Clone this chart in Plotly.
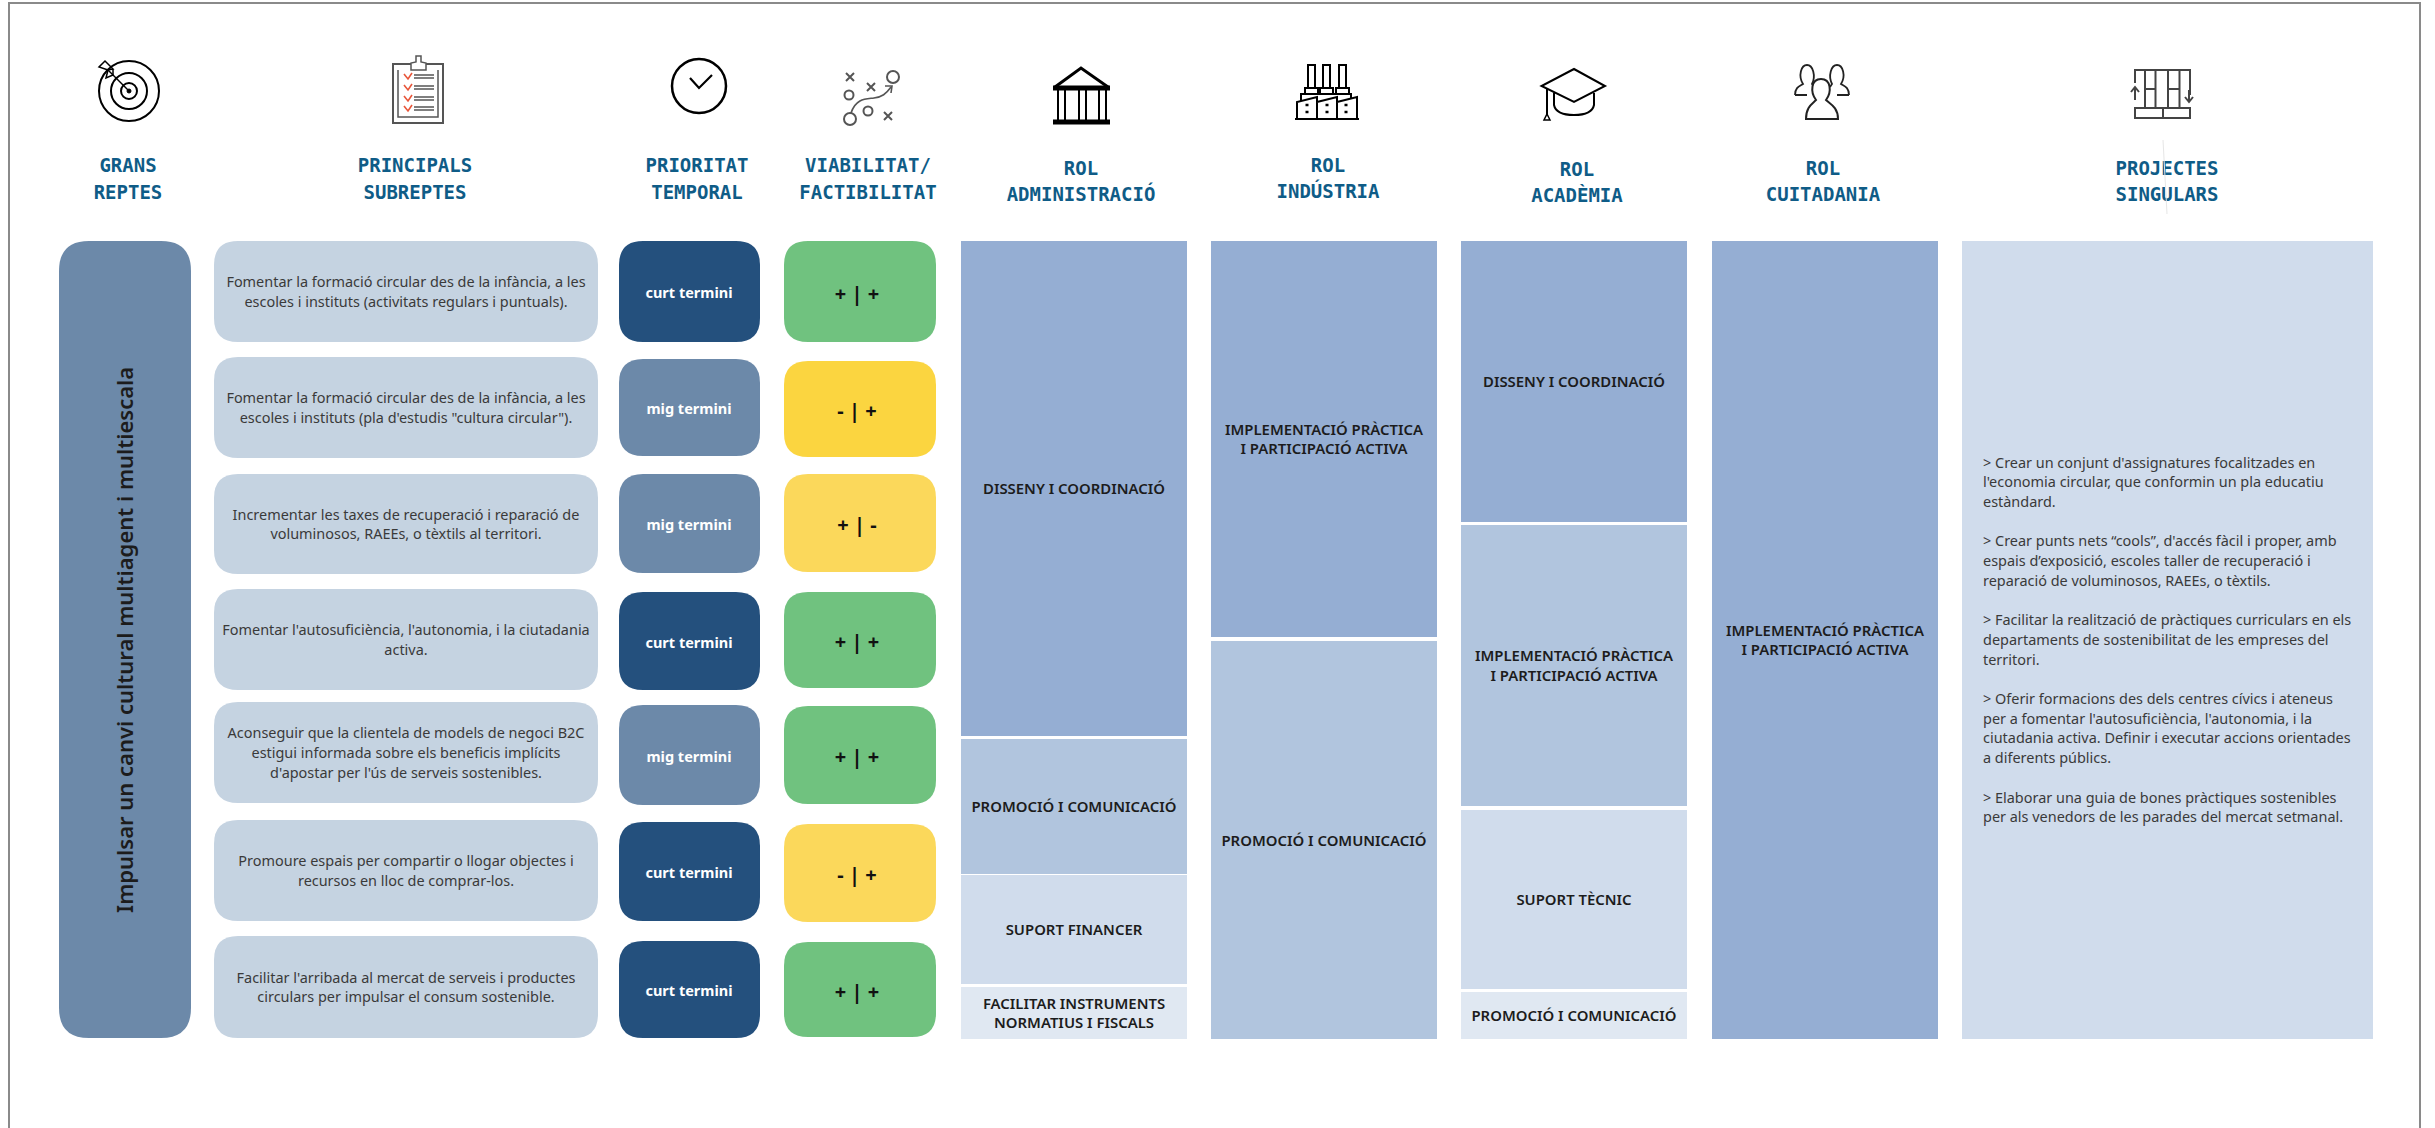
import plotly.graph_objects as go

# ---------- content ----------
CHALLENGE = "Impulsar un canvi cultural multiagent i multiescala"
HEADERS = [["GRANS", "REPTES"], ["PRINCIPALS", "SUBREPTES"], ["PRIORITAT", "TEMPORAL"],
           ["VIABILITAT/", "FACTIBILITAT"], ["ROL", "ADMINISTRACIÓ"], ["ROL", "INDÚSTRIA"],
           ["ROL", "ACADÈMIA"], ["ROL", "CUITADANIA"], ["PROJECTES", "SINGULARS"]]
SUBCHALLENGES = [
    ["Fomentar la formació circular des de la infància, a les", "escoles i instituts (activitats regulars i puntuals)."],
    ["Fomentar la formació circular des de la infància, a les", "escoles i instituts (pla d'estudis \"cultura circular\")."],
    ["Incrementar les taxes de recuperació i reparació de", "voluminosos, RAEEs, o tèxtils al territori."],
    ["Fomentar l'autosuficiència, l'autonomia, i la ciutadania", "activa."],
    ["Aconseguir que la clientela de models de negoci B2C", "estigui informada sobre els beneficis implícits", "d'apostar per l'ús de serveis sostenibles."],
    ["Promoure espais per compartir o llogar objectes i", "recursos en lloc de comprar-los."],
    ["Facilitar l'arribada al mercat de serveis i productes", "circulars per impulsar el consum sostenible."],
]
PRIORITY = ["curt termini", "mig termini", "mig termini", "curt termini", "mig termini", "curt termini", "curt termini"]
VIABILITY = ["+ | +", "- | +", "+ | -", "+ | +", "+ | +", "- | +", "+ | +"]
ROLE_ADMIN = [["DISSENY I COORDINACIÓ"], ["PROMOCIÓ I COMUNICACIÓ"], ["SUPORT FINANCER"],
              ["FACILITAR INSTRUMENTS", "NORMATIUS I FISCALS"]]
ROLE_ADMIN_HEIGHT = [495, 135, 109, 52]
ROLE_INDUSTRY = [["IMPLEMENTACIÓ PRÀCTICA", "I PARTICIPACIÓ ACTIVA"], ["PROMOCIÓ I COMUNICACIÓ"]]
ROLE_INDUSTRY_HEIGHT = [396, 398]
ROLE_ACADEMIA = [["DISSENY I COORDINACIÓ"], ["IMPLEMENTACIÓ PRÀCTICA", "I PARTICIPACIÓ ACTIVA"],
                 ["SUPORT TÈCNIC"], ["PROMOCIÓ I COMUNICACIÓ"]]
ROLE_ACADEMIA_HEIGHT = [281, 281, 179, 47]
ROLE_CITIZENS = [["IMPLEMENTACIÓ PRÀCTICA", "I PARTICIPACIÓ ACTIVA"]]
ROLE_CITIZENS_HEIGHT = [798]
PROJECTS = [
    "> Crear un conjunt d'assignatures focalitzades en", "l'economia circular, que conformin un pla educatiu", "estàndard.", "",
    "> Crear punts nets “cools”, d'accés fàcil i proper, amb", "espais d’exposició, escoles taller de recuperació i", "reparació de voluminosos, RAEEs, o tèxtils.", "",
    "> Facilitar la realització de pràctiques curriculars en els", "departaments de sostenibilitat de les empreses del", "territori.", "",
    "> Oferir formacions des dels centres cívics i ateneus", "per a fomentar l'autosuficiència, l'autonomia, i la", "ciutadania activa. Definir i executar accions orientades", "a diferents públics.", "",
    "> Elaborar una guia de bones pràctiques sostenibles", "per als venedors de les parades del mercat setmanal.",
]

# ---------- layout constants (page geometry) ----------
W, H = 2435, 1128
HEADER_X = [128, 415, 697, 868, 1081, 1328, 1577, 1823, 2167]
HEADER_Y = [(165, 192), (165, 192), (165, 192), (165, 192), (168, 194), (165, 191), (169, 195), (168, 194), (168, 194)]
SUB_Y = [(241, 342), (357, 458), (474, 574), (589, 690), (702, 803), (820, 921), (936, 1038)]
PRI_Y = [(241, 342), (359, 456), (474, 573), (592, 690), (705, 805), (822, 921), (941, 1038)]
VIA_Y = [(241, 342), (361, 457), (474, 572), (592, 688), (706, 804), (824, 922), (942, 1037)]
VIA_COLORS = ["#70C27F", "#FBD540", "#FBD85B", "#70C27F", "#70C27F", "#FBD85B", "#70C27F"]
PRI_COLORS = {"curt termini": "#24507D", "mig termini": "#6C89A9"}
ROLE_X = [(961, 1187), (1211, 1437), (1461, 1687), (1712, 1938)]
ROLE_TOPS = [[241, 739, 875, 987], [241, 641], [241, 525, 810, 992], [241]]
PROJ_X = (1962, 2373)
TOP, BOTTOM = 241, 1039
TEXT_DY = 2

BODY = "Noto Sans"
HEAD = "DejaVu Sans Mono"

fig = go.Figure()
shapes = []


def rrect(x0, y0, x1, y1, r, fill):
    d = (f"M{x0+r},{y0} L{x1-r},{y0} Q{x1},{y0} {x1},{y0+r} L{x1},{y1-r} Q{x1},{y1} {x1-r},{y1} "
         f"L{x0+r},{y1} Q{x0},{y1} {x0},{y1-r} L{x0},{y0+r} Q{x0},{y0} {x0+r},{y0} Z")
    shapes.append(dict(type="path", path=d, fillcolor=fill, line=dict(width=0), xref="x", yref="y", layer="below"))


def stroke(d, color="#000", w=2, fill="rgba(0,0,0,0)"):
    shapes.append(dict(type="path", path=d, line=dict(color=color, width=w), fillcolor=fill, xref="x", yref="y", layer="above"))


def circle(cx, cy, r, color="#000", w=2, fill="rgba(0,0,0,0)"):
    shapes.append(dict(type="circle", x0=cx-r, x1=cx+r, y0=cy-r, y1=cy+r, line=dict(color=color, width=w),
                       fillcolor=fill, xref="x", yref="y", layer="above"))


def text(x, y, s, size, color, family=BODY, weight="normal", pos="middle center"):
    fig.add_trace(go.Scatter(x=[x], y=[y + TEXT_DY], text=[s], mode="text", textposition=pos, hoverinfo="skip",
                             textfont=dict(size=size, color=color, family=family, weight=weight)))


def lines(x, yc, ls, step, size, color, **kw):
    y0 = yc - step * (len(ls) - 1) / 2
    for i, s in enumerate(ls):
        if s:
            text(x, y0 + i * step, s, size, color, **kw)


# frame
stroke(f"M9,{H} L9,3 L2420,3 L2420,{H}", "#8a8a8a", 2)

# headers
for x, ys, ls in zip(HEADER_X, HEADER_Y, HEADERS):
    for y, s in zip(ys, ls):
        text(x, y, s, 19, "#0F5C87", family=HEAD, weight="bold")
stroke("M2163,140 L2167,214", "#e6e6e6", 1)

# left column and rows
rrect(59, TOP, 191, 1038, 30, "#6C89A9")
fig.add_annotation(x=124, y=640, text=CHALLENGE, textangle=-90, showarrow=False, xref="x", yref="y",
                   font=dict(size=22, color="#1c1c1c", family=BODY, weight=600))
for i in range(7):
    y0, y1 = SUB_Y[i]
    rrect(214, y0, 598, y1, 24, "#C5D3E1")
    lines(406, (y0 + y1) / 2, SUBCHALLENGES[i], 19.7, 14.45, "#3a3a3a")
    y0, y1 = PRI_Y[i]
    rrect(619, y0, 760, y1, 24, PRI_COLORS[PRIORITY[i]])
    text(689, (y0 + y1) / 2 + 1, PRIORITY[i], 14.5, "#ffffff", weight=700)
    y0, y1 = VIA_Y[i]
    rrect(784, y0, 936, y1, 24, VIA_COLORS[i])
    text(857, (y0 + y1) / 2 + 2, VIABILITY[i], 20, "#111111", weight=700)

# role columns as bars on the page axes
SHADES = ["#95AED3", "#B1C5DE", "#D0DCEC", "#E0E8F2"]
ROLE_HEIGHTS = [ROLE_ADMIN_HEIGHT, ROLE_INDUSTRY_HEIGHT, ROLE_ACADEMIA_HEIGHT, ROLE_CITIZENS_HEIGHT]
for col, hs, tops, (x0, x1) in zip([ROLE_ADMIN, ROLE_INDUSTRY, ROLE_ACADEMIA, ROLE_CITIZENS], ROLE_HEIGHTS, ROLE_TOPS, ROLE_X):
    for k, (ls, h, base) in enumerate(zip(col, hs, tops)):
        fig.add_trace(go.Bar(x=[(x0 + x1) / 2], y=[h], base=[base], width=[x1 - x0], hoverinfo="skip",
                             marker=dict(color=SHADES[k], line=dict(width=0))))
        lines((x0 + x1) / 2, base + h / 2, ls, 19.5, 14.9, "#1c1c1c", weight=600)
fig.add_trace(go.Bar(x=[(PROJ_X[0] + PROJ_X[1]) / 2], y=[BOTTOM - TOP], base=[TOP], width=[PROJ_X[1] - PROJ_X[0]],
                     hoverinfo="skip", marker=dict(color="#D0DCEC", line=dict(width=0))))
for i, s in enumerate(PROJECTS):
    if s:
        text(1983, 462 + i * 19.7, s, 14.45, "#3a3a3a", pos="middle right")

# ---------- icons ----------
# target
for r in (30, 18, 8):
    circle(129, 91, r, w=2)
circle(129, 91, 2, w=1, fill="#000")
stroke("M129,91 L108,70", w=1.5)
stroke("M108,70 L99,67 L105,61 L113,69 Z M108,70 L106,78 L113,75 L113,69", w=1.5)
# clipboard
stroke("M393,64 L443,64 L443,123 L393,123 Z", "#555", 2)
stroke("M398,70 L398,117 L438,117 L438,70", "#555", 1.5)
stroke("M411,70 L411,63 L416,62 L416,56 L421,56 L421,62 L426,63 L426,70 Z", "#555", 1.5, fill="#fff")
for y in (77, 88, 99, 109):
    stroke(f"M404,{y-3} L408,{y+2} L412,{y-4}", "#E8563A", 1.6)
    stroke(f"M414,{y-2} L434,{y-2} M414,{y+1} L434,{y+1}", "#555", 1.3)
# clock
circle(699, 86, 27, w=2.5)
stroke("M690,78 L699,88 L712,75", w=2.2)
# strategy
for cx, cy in ((850, 77), (871, 87), (888, 116)):
    stroke(f"M{cx-4},{cy-4} L{cx+4},{cy+4} M{cx-4},{cy+4} L{cx+4},{cy-4}", "#555", 2)
circle(893, 77, 6, "#555", 2); circle(849, 95, 4.5, "#555", 2); circle(868, 111, 4.5, "#555", 2); circle(850, 119, 6, "#555", 2)
stroke("M851,113 C856,98 866,99 874,98 C882,97 886,94 891,87", "#555", 1.6)
stroke("M885,86 L892,86 L891,93", "#555", 1.6)
# temple
stroke("M1055,87 L1081,68 L1108,87", w=3)
stroke("M1053,88 L1110,88", w=5)
stroke("M1053,122 L1110,122", w=5)
for x in (1058, 1065, 1079, 1086, 1099, 1106):
    stroke(f"M{x},88 L{x},122", w=2)
# factory
for x0, x1 in ((1308, 1315), (1323, 1330), (1339, 1346)):
    stroke(f"M{x0},88 L{x0},65 L{x1},65 L{x1},88", w=2)
    stroke(f"M{x0-3},94 L{x0-3},88 L{x1+3},88 L{x1+3},94", w=2)
stroke("M1301,101 L1301,94 L1351,94 L1351,99", w=2)
stroke("M1297,119 L1297,102 L1317,97 L1317,119 M1317,102 L1337,97 L1337,119 M1337,102 L1357,97 L1357,119", w=2)
stroke("M1295,119 L1359,119", w=2)
for x in (1307, 1327, 1346):
    for y in (105, 112):
        stroke(f"M{x-1.5},{y} L{x+1.5},{y}", w=2.5)
# cap
stroke("M1574,69 L1605,86 L1574,102 L1541.5,86 Z", w=2)
stroke("M1554,93 L1554,105 Q1556,115 1574,115 Q1592,115 1594,105 L1594,93", w=2)
stroke("M1547,88 L1547,115", w=2)
stroke("M1547,114 L1550,120 L1544,120 Z", w=1.5)
# people
stroke("M1795,95 C1795,87 1800,86 1803,84 C1798,76 1801,65 1807,65 C1813,65 1816,76 1812,84 L1814,87 M1795,95 L1807,95", "#222", 1.8)
stroke("M1849,95 C1849,87 1844,86 1841,84 C1846,76 1843,65 1837,65 C1831,65 1828,76 1832,84 L1830,87 M1849,95 L1837,95", "#222", 1.8)
stroke("M1806,119 C1806,107 1812,104 1816,100 C1810,92 1811,79 1821,79 C1831,79 1832,92 1826,100 C1830,104 1838,107 1838,119 Z", "#222", 2, fill="#fff")
# kanban
stroke("M2135,83 L2135,70 L2190,70 L2190,95", "#444", 2)
stroke("M2145,70 L2145,108 M2155.5,70 L2155.5,108 M2168,70 L2168,108 M2179.5,70 L2179.5,108 M2145,89 L2155.5,89 M2168,89 L2179.5,89", "#444", 2)
stroke("M2135,108 L2190,108 L2190,118 L2135,118 Z M2163,108 L2163,118", "#444", 2)
stroke("M2135,100 L2135,87 M2131,92 L2135,87 L2139,92", "#444", 2)
stroke("M2189,90 L2189,102 M2185,97 L2189,102 L2193,97", "#444", 2)

fig.update_layout(
    width=W, height=H, margin=dict(l=0, r=0, t=0, b=0), paper_bgcolor="#fff", plot_bgcolor="#fff",
    showlegend=False, barmode="overlay", shapes=shapes,
    xaxis=dict(range=[0, W], visible=False, fixedrange=True),
    yaxis=dict(range=[H, 0], visible=False, fixedrange=True),
)
fig.write_html("out.html", config={"displayModeBar": False},
               post_script="document.body.style.margin='0';document.body.style.overflow='hidden';")
